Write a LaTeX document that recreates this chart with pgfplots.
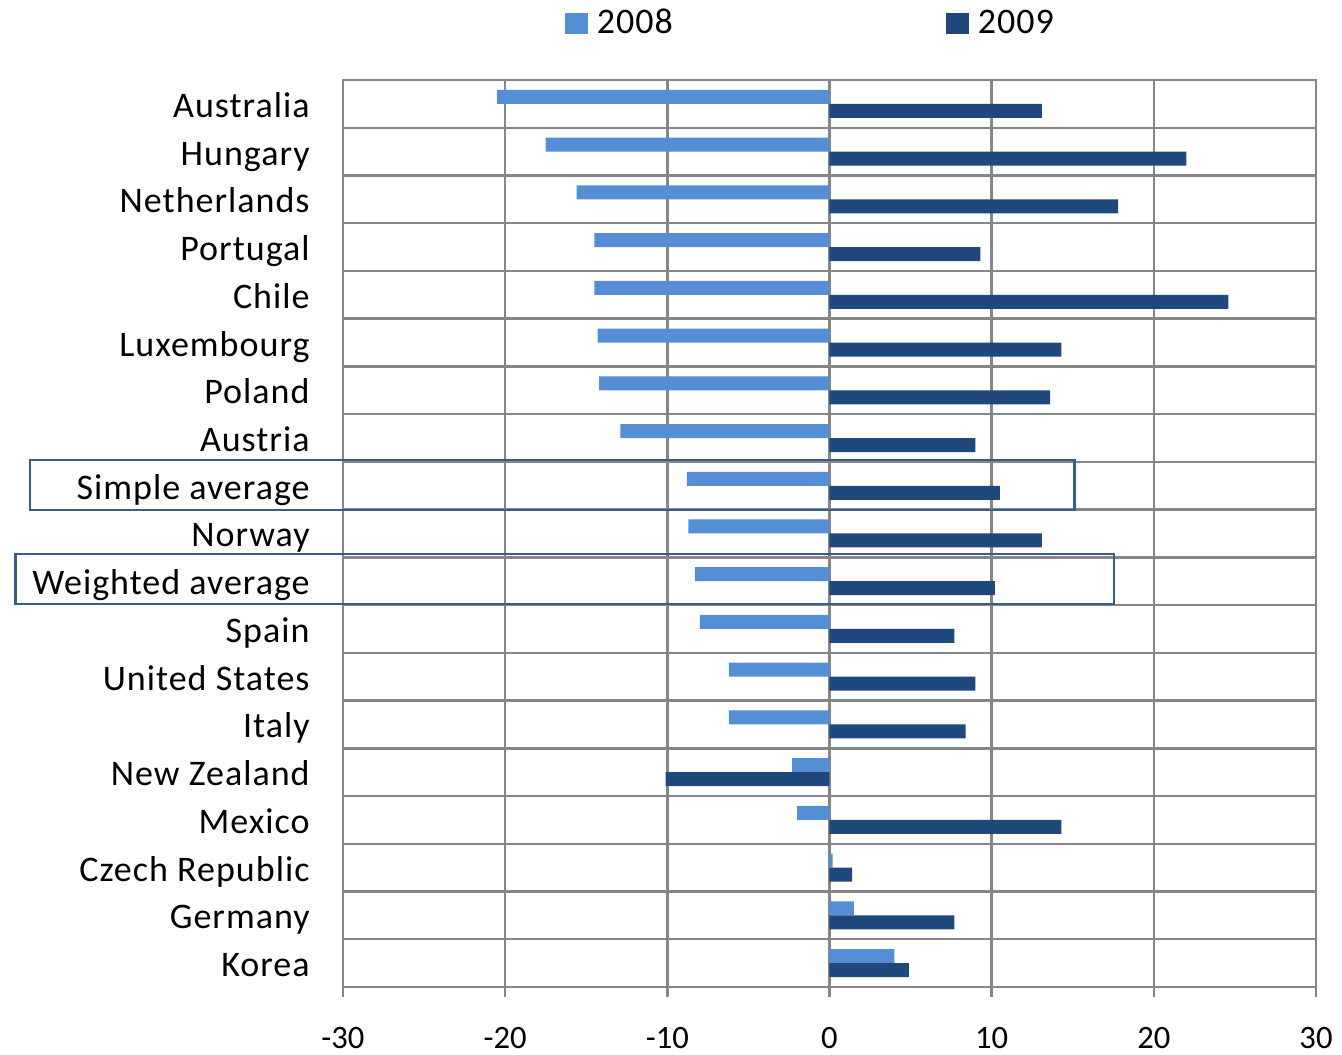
\documentclass[border=0pt]{standalone}
\usepackage{fontspec}
\setmainfont{Carlito}
\newfontfamily\labelfont{Carlito}[LetterSpace=2.8]
\usepackage{pgfplots}
\pgfplotsset{compat=1.18}
\definecolor{light}{HTML}{558ED5}
\definecolor{dark}{HTML}{1F497D}
\definecolor{gridgray}{HTML}{868686}
\definecolor{boxblue}{HTML}{385D8A}

\begin{document}
\begin{tikzpicture}
\begin{axis}[
    scale only axis,
    width=486.5pt, height=453.5pt,
    clip=false,
    xbar, bar width=7pt,
    xmin=-30, xmax=30, ymin=-0.5, ymax=18.5,
    xtick={-30,-20,...,30},
    xticklabels={-30,-20,-10,0,10,20,30},
    ytick={0,...,18},
    yticklabels={Korea,Germany,Czech Republic,Mexico,New Zealand,Italy,United States,Spain,Weighted average,Norway,Simple average,Austria,Poland,Luxembourg,Chile,Portugal,Netherlands,Hungary,Australia},
    minor ytick={0.5,1.5,...,17.5},
    xmajorgrids, yminorgrids,
    major grid style={gridgray, line width=1.2pt},
    minor grid style={gridgray, line width=1.2pt},
    axis line style={gridgray, line width=1.2pt},
    xtick pos=bottom, tick align=outside, major tick length=5pt,
    xtick style={gridgray, line width=1.2pt},
    ytick style={draw=none},
    xticklabel style={font=\fontsize{16.3}{19}\selectfont, inner sep=0pt, yshift=-15pt},
    yticklabel style={font=\labelfont\fontsize{18}{21}\selectfont, inner sep=0pt,
      anchor=base east, xshift=-11.5pt, yshift=-6.75pt},
    legend columns=2,
    legend style={draw=none, fill=none, inner sep=0pt,
      at={(axis cs:-16.34,19.69)}, anchor=west,
      font=\labelfont\fontsize{18}{21}\selectfont,
      nodes={inner xsep=4.5pt, inner ysep=0pt},
      /tikz/every even column/.append style={column sep=132pt}},
    legend image code/.code={\fill[#1] (0pt,-5.25pt) rectangle (11.5pt,5.25pt);},
]
\addplot[fill=light, draw=none, bar shift=3.5pt] coordinates {
  (-20.5,18) (-17.5,17) (-15.6,16) (-14.5,15) (-14.5,14) (-14.3,13)
  (-14.2,12) (-12.9,11) (-8.8,10) (-8.7,9) (-8.3,8) (-8.0,7)
  (-6.2,6) (-6.2,5) (-2.3,4) (-2.0,3) (0.2,2) (1.5,1) (4.0,0)
};
\addplot[fill=dark, draw=none, bar shift=-3.5pt] coordinates {
  (13.1,18) (22.0,17) (17.8,16) (9.3,15) (24.6,14) (14.3,13)
  (13.6,12) (9.0,11) (10.5,10) (13.1,9) (10.2,8) (7.7,7)
  (9.0,6) (8.4,5) (-10.1,4) (14.3,3) (1.4,2) (7.7,1) (4.9,0)
};
\legend{2008,2009}
\draw[boxblue, line width=1.3pt] (axis cs:-49.3,9.49) rectangle (axis cs:15.1,10.54);
\draw[boxblue, line width=1.3pt] (axis cs:-50.2,7.52) rectangle (axis cs:17.55,8.57);
\coordinate (SW) at (rel axis cs:0,0);
\end{axis}
\pgfresetboundingbox
\path[use as bounding box] ([xshift=-171.5pt,yshift=-33.5pt]SW) rectangle ++(671pt,527pt);
\end{tikzpicture}
\end{document}
